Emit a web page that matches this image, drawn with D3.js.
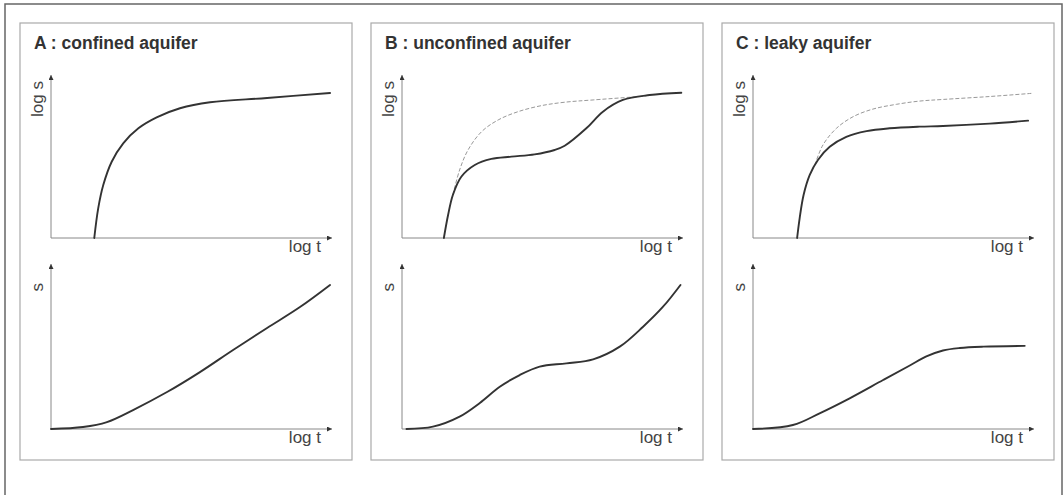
<!DOCTYPE html>
<html>
<head>
<meta charset="utf-8">
<script src="https://cdn.jsdelivr.net/npm/d3@7"></script>
<style>
  body { margin: 0; background: #fff; }
  svg { display: block; }
  text { font-family: "Liberation Sans", Arial, Helvetica, sans-serif; }
</style>
</head>
<body>
<div id="chart"></div>
<script>
// panel titles
var titles = ["A : confined aquifer", "B : unconfined aquifer", "C : leaky aquifer"];
var xLabel = "log t";
var yLabelTop = "log s", yLabelBottom = "s";

// curves, both axes 0..100 (relative units)
// A : confined - log s vs log t
var confLogX = [15.4, 16.8, 18.6, 21.6, 25.7, 31.1, 37.6, 45.9, 56.6, 76.9, 99.3];
var confLogY = [0, 18.2, 32.5, 46.8, 58.1, 67.3, 74.0, 79.6, 83.3, 85.9, 89.0];
// A : confined - s vs log t
var confLinX = [0, 11.4, 19.9, 29.2, 41.3, 53.0, 64.8, 76.9, 88.6, 99.3];
var confLinY = [0, 1.2, 4.2, 11.5, 22.4, 34.5, 47.9, 61.2, 73.9, 87.3];

// B : unconfined
var unconfLogX = [14.9, 16.4, 18.1, 21.1, 25.9, 31.8, 38.9, 47.2, 54.3, 57.9, 65.6, 71.5, 78.6, 88.1, 99.4];
var unconfLogY = [0, 14.1, 26.4, 37.6, 44.8, 48.5, 49.9, 51.3, 54.0, 56.6, 67.3, 77.5, 84.7, 87.7, 89.1];
var unconfRefX = [18.1, 20.5, 23.5, 28.3, 34.2, 41.3, 49.6, 57.9, 68.0, 87.0];
var unconfRefY = [26.4, 41.7, 54.0, 65.2, 72.4, 77.5, 81.2, 83.3, 84.7, 87.1];
var unconfLinX = [1.6, 11.0, 20.5, 27.7, 34.8, 41.9, 49.0, 58.5, 68.0, 77.5, 85.8, 92.9, 99.1];
var unconfLinY = [0, 1.4, 7.5, 15.8, 25.6, 32.7, 37.8, 39.8, 42.2, 49.9, 62.0, 74.1, 87.3];

// C : leaky
var leakyLogX = [15.7, 16.6, 18.0, 20.2, 23.1, 27.3, 33.2, 40.4, 48.6, 59.3, 67.6, 84.2, 97.9];
var leakyLogY = [0, 12.1, 26.4, 38.7, 47.9, 56.0, 62.1, 65.6, 67.3, 68.3, 68.7, 70.2, 72.0];
var leakyRefX = [22.0, 24.9, 29.7, 35.6, 42.7, 51.0, 59.3, 67.6, 84.2, 99.6];
var leakyRefY = [44.8, 57.1, 67.3, 74.4, 79.1, 82.0, 84.0, 85.0, 86.8, 88.8];
var leakyLinX = [0, 14.2, 23.7, 34.4, 46.3, 55.8, 61.7, 67.6, 73.6, 82.0, 96.7];
var leakyLinY = [0, 2.4, 9.5, 18.6, 29.7, 38.5, 44.0, 47.6, 49.1, 49.9, 50.4];

function zip(xs, ys) { return xs.map(function(x, i) { return {x: x, y: ys[i]}; }); }

var panels = [
  { title: titles[0], top: zip(confLogX, confLogY), topRef: null, bottom: zip(confLinX, confLinY) },
  { title: titles[1], top: zip(unconfLogX, unconfLogY), topRef: zip(unconfRefX, unconfRefY), bottom: zip(unconfLinX, unconfLinY) },
  { title: titles[2], top: zip(leakyLogX, leakyLogY), topRef: zip(leakyRefX, leakyRefY), bottom: zip(leakyLinX, leakyLinY) }
];

var width = 1064, height = 495;
var svg = d3.select("#chart").append("svg").attr("width", width).attr("height", height);

var defs = svg.append("defs");
defs.append("marker")
  .attr("id", "arrow")
  .attr("viewBox", "0 0 10 10")
  .attr("refX", 10).attr("refY", 5)
  .attr("markerWidth", 7).attr("markerHeight", 5)
  .attr("markerUnits", "userSpaceOnUse")
  .attr("orient", "auto")
  .append("path").attr("d", "M0,0L10,5L0,10z").attr("fill", "#333");

// outer frame
svg.append("rect")
  .attr("x", 5).attr("y", 4).attr("width", 1057).attr("height", 520)
  .attr("fill", "none").attr("stroke", "#666").attr("stroke-width", 1.5);

var boxX = [20, 371, 722], boxY = 23, boxW = 332, boxH = 437;
var plotOffX = 31, plotW = 281;

function drawPlot(g, ox, oy, tipY, curve, ref, ylab, labEnd) {
  var x = d3.scaleLinear().domain([0, 100]).range([ox, ox + plotW]);
  var y = d3.scaleLinear().domain([0, 100]).range([oy, tipY]);
  var line = d3.line().x(function(d) { return x(d.x); }).y(function(d) { return y(d.y); })
    .curve(d3.curveCatmullRom.alpha(0.5));

  g.append("line").attr("x1", x(0)).attr("y1", y(0)).attr("x2", x(100)).attr("y2", y(0))
    .attr("stroke", "#888").attr("stroke-width", 1).attr("marker-end", "url(#arrow)");
  g.append("line").attr("x1", x(0)).attr("y1", y(0)).attr("x2", x(0)).attr("y2", y(100))
    .attr("stroke", "#888").attr("stroke-width", 1).attr("marker-end", "url(#arrow)");

  if (ref) {
    g.append("path").datum(ref).attr("d", line)
      .attr("fill", "none").attr("stroke", "#999").attr("stroke-width", 1)
      .attr("stroke-dasharray", "4,2");
  }
  g.append("path").datum(curve).attr("d", line)
    .attr("fill", "none").attr("stroke", "#333").attr("stroke-width", 1.9)
    .attr("stroke-linecap", "round");

  g.append("text").attr("x", x(100) - 11).attr("y", oy + 14)
    .attr("text-anchor", "end").attr("font-size", 17).attr("fill", "#444").text(xLabel);
  g.append("text")
    .attr("transform", "translate(" + (ox - 8) + "," + labEnd + ") rotate(-90)")
    .attr("text-anchor", "end").attr("font-size", 17).attr("fill", "#444").text(ylab);
}

panels.forEach(function(p, i) {
  var g = svg.append("g");
  var bx = boxX[i];
  g.append("rect").attr("x", bx).attr("y", boxY).attr("width", boxW).attr("height", boxH)
    .attr("fill", "#fff").attr("stroke", "#aaa").attr("stroke-width", 1.2);
  g.append("text").attr("x", bx + 14).attr("y", 48.5)
    .attr("font-size", 17.5).attr("font-weight", "bold").attr("fill", "#333").text(p.title);

  drawPlot(g, bx + plotOffX, 238, 75, p.top, p.topRef, yLabelTop, 81);
  drawPlot(g, bx + plotOffX, 429, 264, p.bottom, null, yLabelBottom, 283);
});
</script>
</body>
</html>
